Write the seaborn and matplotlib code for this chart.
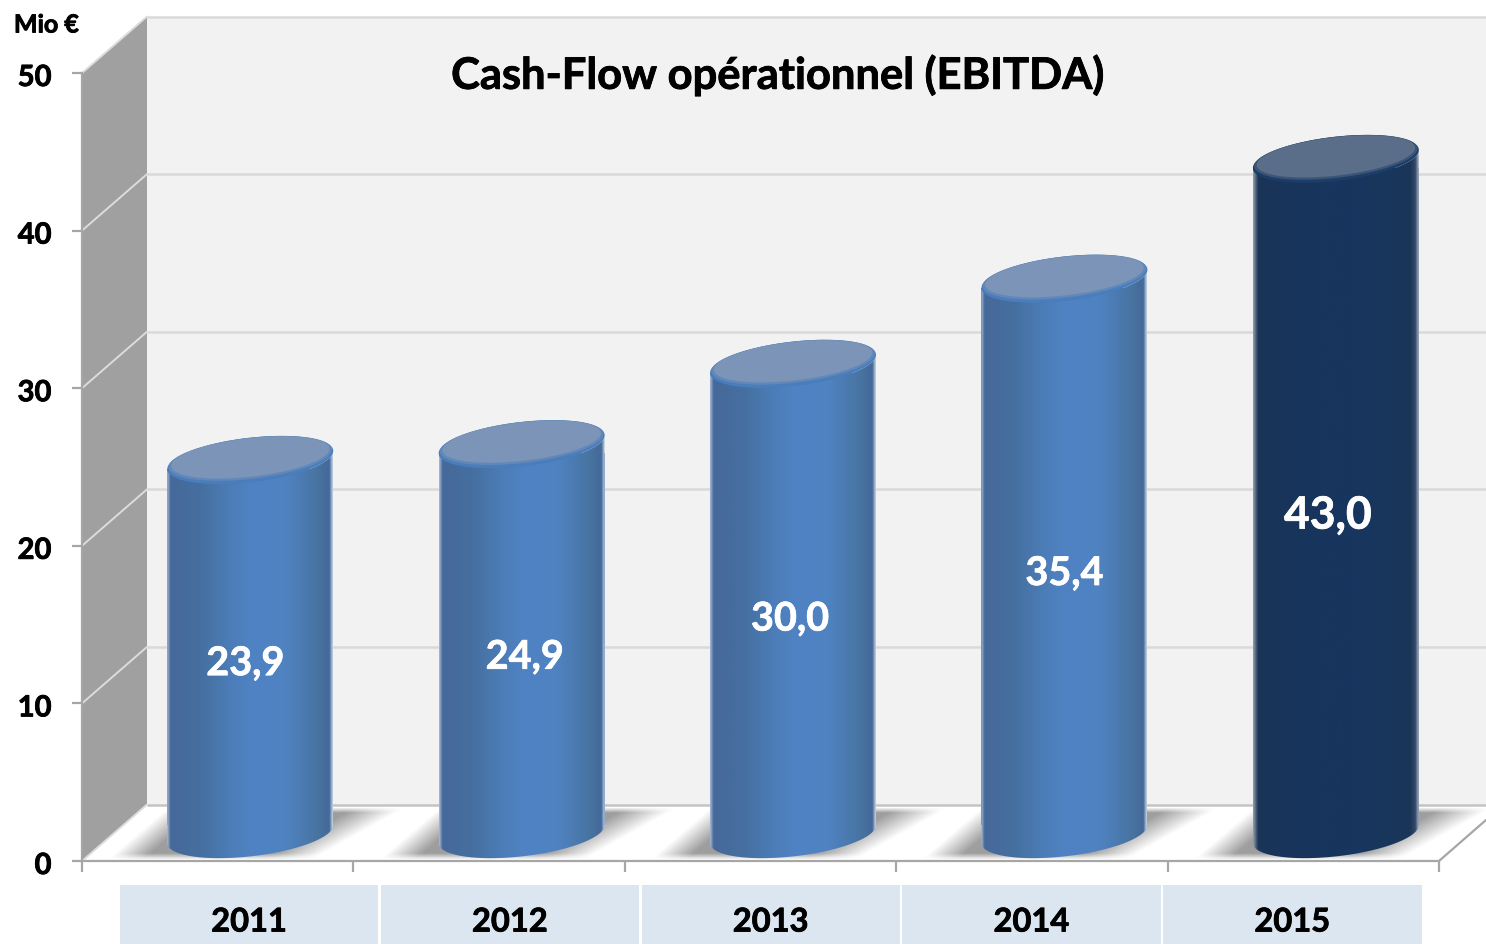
import numpy as np
import matplotlib
matplotlib.use("Agg")
import matplotlib.pyplot as plt
import matplotlib.patheffects as pe
import matplotlib.transforms as mtrans
import seaborn as sns
from matplotlib.colors import LinearSegmentedColormap
from matplotlib.patches import Polygon, Rectangle
from matplotlib.path import Path

years = ["2011", "2012", "2013", "2014", "2015"]
ebitda = [23.9, 24.9, 30.0, 35.4, 43.0]
y_ticks = [0, 10, 20, 30, 40, 50]
title = "Cash-Flow opérationnel (EBITDA)"
unit = "Mio €"
label_dx_px = [0, 8, 2, 5, 1]
label_dy_px = [2, 3.5, 5.5, 2.5, 4.5]

sns.set_theme(style="white")
plt.rcParams["font.family"] = ["Lato", "DejaVu Sans"]

W, H = 1486, 945
CAT = (1439 - 82) / 5
UNIT = (861 - 73) / 50
def X(px): return (px - 82) / CAT - 0.5
def Y(py): return (862 - py) / UNIT
heavy = [pe.withStroke(linewidth=0.6, foreground="black")]
heavy_w = [pe.withStroke(linewidth=0.5, foreground="white")]

fig = plt.figure(figsize=(W / 100, H / 100), dpi=100, facecolor="white")
ax = fig.add_axes([0, 0, 1, 1])
ax.patch.set_alpha(0)

palette = {y: "#4a78b4" for y in years}
palette["2015"] = "#17355c"
sns.barplot(x=years, y=ebitda, hue=years, palette=palette, legend=False,
            width=166 / CAT, ax=ax, saturation=1, linewidth=0, zorder=3)

DX, DY = 65 / CAT, 56.5 / UNIT      # depth of the pseudo 3D box
BAR_DX, BAR_DY = 0.120, 1.55        # offset of the cylinders in the box
A = 166 / CAT / 2
B, S = 1.41, 0.57                   # ellipse half height and tilt

def arc(cx, cy, t0, t1, a=A, b=B, s=S, n=80):
    t = np.linspace(t0, t1, n)
    return np.column_stack([cx + a * np.cos(t), cy + s * np.cos(t) + b * np.sin(t)])

# box
x0, x1 = X(82), X(1439)
xr = X(1486)
ax.add_patch(Polygon([[x0 + DX, DY], [xr, DY], [xr, 50 + DY], [x0 + DX, 50 + DY]],
                     fc="#f2f2f2", ec="none", zorder=0))
ax.add_patch(Polygon([[x0, 0], [x0 + DX, DY], [x0 + DX, 50 + DY], [x0, 50]],
                     fc="#a0a0a0", ec="none", zorder=1))
for v in y_ticks:
    lc = "#c4c4c4" if v == 0 else "#d9d9d9"
    ax.plot([x0 + DX, xr], [v + DY, v + DY], color=lc, lw=1.8, zorder=0.5, solid_capstyle="butt")
    ax.plot([x0, x0 + DX], [v, v + DY], color="#dcdcdc", lw=1.4, zorder=1.2)
ax.plot([x1, xr], [0, (861 - 820) / UNIT], color="#a6a6a6", lw=1.6, zorder=1.2)

bars = sorted([p for p in ax.patches if isinstance(p, Rectangle) and p.get_width() > 0.1 and p.get_zorder() == 3],
              key=lambda p: p.get_x())

blue = LinearSegmentedColormap.from_list("b", [
    (0, "#a5b9d2"), (0.02, "#45699a"), (0.2, "#456f9f"), (0.38, "#4c7db8"), (0.52, "#5083c4"),
    (0.72, "#4f82c1"), (0.92, "#47739f"), (0.98, "#45699a"), (1, "#c0cfe0")])
navy = LinearSegmentedColormap.from_list("n", [
    (0, "#8d9aad"), (0.03, "#1b3457"), (0.3, "#17355c"), (0.6, "#17365f"),
    (0.95, "#1a3659"), (0.98, "#34496a"), (1, "#a8b2c0")])
grad = np.linspace(0, 1, 256).reshape(1, -1)

# soft floor shadow
sy = np.linspace(0, 1, 60)
sx = np.linspace(0, 1, 360)
gx, gy = np.meshgrid(sx, sy)
left_edge = 0.17 - 0.17 * gy
right_edge = 0.83 - 0.26 * gy
ramp = lambda z: np.clip(z, 0, 1)
sh_a = ramp((gx - left_edge) / 0.10) * ramp((right_edge - gx) / 0.14)
sh_a *= np.clip(gy / 0.1, 0, 1) * np.clip((1 - gy) / 0.12, 0, 1)
shadow = np.dstack([np.full_like(gx, 0.62), np.full_like(gx, 0.62), np.full_like(gx, 0.62), sh_a])

for i, (p, v, yr) in enumerate(zip(bars, ebitda, years)):
    cx = i + BAR_DX
    cy0, cy1 = BAR_DY + 0.15, BAR_DY + v
    left = cx - A
    ax.imshow(shadow, extent=(left - 60 / CAT, left + 300 / CAT, Y(861), Y(808)),
              aspect="auto", zorder=2, interpolation="bilinear")
    p.set_x(left)
    p.set_y(cy0 + S)
    p.set_height(v - 2 * S - 0.15)
    p.set_zorder(3)
    outline = np.vstack([arc(cx, cy0, np.pi, 2 * np.pi), arc(cx, cy1, 2 * np.pi, np.pi)])
    big = yr == "2015"
    im = ax.imshow(grad, cmap=navy if big else blue, aspect="auto",
                   extent=(left, left + 2 * A, cy0 - 2, cy1 + 2), zorder=3.5)
    im.set_clip_path(Path(outline), ax.transData)
    rim = "#1b3d68" if big else "#4a7dbc"
    mid = "#3c5576" if big else "#6288ba"
    cap = "#5a6e8a" if big else "#7b94b8"
    ax.add_patch(Polygon(arc(cx, cy1, 0, 2 * np.pi), fc=rim, ec="none", zorder=4))
    ax.add_patch(Polygon(arc(cx, cy1 + 0.1, 0, 2 * np.pi, a=A * 0.985, b=B * 0.93, s=S * 0.98),
                         fc=mid, ec="none", zorder=4.1))
    ax.add_patch(Polygon(arc(cx, cy1 + 0.16, 0, 2 * np.pi, a=A * 0.955, b=B * 0.87, s=S * 0.95),
                         fc=cap, ec="none", zorder=4.2))
    ax.text(cx - (0.018 if not big else 0.033) + label_dx_px[i] / CAT,
            v / 2 + 0.7 - label_dy_px[i] / UNIT, f"{v:.1f}".replace(".", ","),
            color="white", ha="center", va="center", fontweight="bold",
            fontsize=32 if big else 28.5, zorder=6, path_effects=heavy_w)

# year table
for i, yr in enumerate(years):
    cx0 = 120 + i * 260.8
    ax.add_patch(Rectangle((X(cx0), Y(946)), (260.8 - 2.5) / CAT, Y(886) - Y(946),
                           fc="#dce6f1", ec="none", zorder=1))
    ax.text(X(cx0 + 129), Y(923), yr, ha="center", va="center", color="black",
            fontweight="bold", fontsize=23.5, zorder=6, path_effects=heavy)

ax.text(X(778), Y(76), title, ha="center", va="center", color="black",
        fontweight="bold", fontsize=31.3, zorder=6, path_effects=heavy)
ax.text(X(46.5), Y(26), unit, ha="center", va="center", color="black",
        fontweight="bold", fontsize=18, zorder=6, path_effects=heavy)

# axes
ax.set_xlim(X(0), X(W))
ax.set_ylim(Y(H), Y(0))
ax.set_xlabel("")
ax.set_ylabel("")
ax.set_xticks(np.arange(-0.5, 5, 1))
ax.set_xticklabels([])
ax.set_yticks(y_ticks)
ax.set_yticklabels([str(t) for t in y_ticks])
ax.grid(False)
for s in ("top", "right"):
    ax.spines[s].set_visible(False)
ax.spines["left"].set_position(("data", x0))
ax.spines["left"].set_bounds(0, 50)
ax.spines["bottom"].set_position(("data", 0))
ax.spines["bottom"].set_bounds(x0, x1)
for s in ("left", "bottom"):
    ax.spines[s].set_color("#a6a6a6")
    ax.spines[s].set_linewidth(1.6)
    ax.spines[s].set_zorder(5)
ax.tick_params(axis="x", bottom=True, length=8, width=1.6, color="#a6a6a6", direction="out")
ax.tick_params(axis="y", left=True, length=7, width=1.6, color="#a6a6a6", direction="out",
               pad=15, labelsize=21, labelcolor="black")
label_shift = mtrans.ScaledTranslation(0, -2.5 / 100, fig.dpi_scale_trans)
for lab in ax.get_yticklabels():
    lab.set_fontweight("bold")
    lab.set_path_effects(heavy)
    lab.set_transform(lab.get_transform() + label_shift)

fig.savefig("out.png", dpi=100, facecolor="white")
